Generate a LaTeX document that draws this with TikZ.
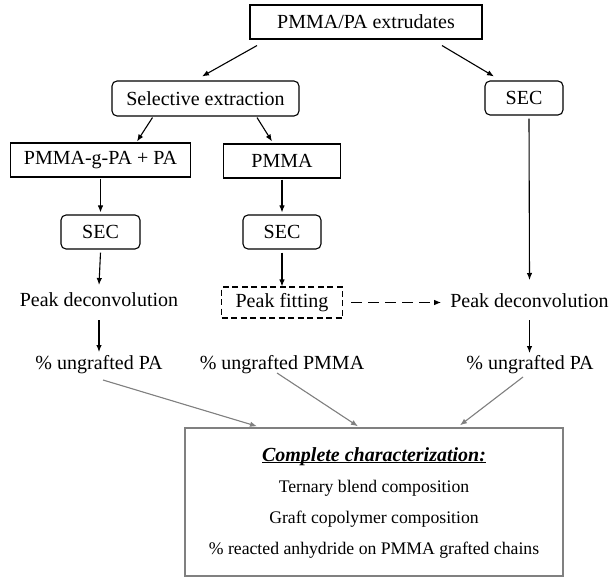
\documentclass[tikz,border=0pt]{standalone}
\usepackage{fontspec}
\setmainfont{Liberation Serif}
\usetikzlibrary{arrows.meta,positioning}
\newcommand{\ulinetext}[1]{\underline{\smash{#1}}}

\begin{document}
\begin{tikzpicture}[x=1pt, y=-1pt, every node/.style={font=\fontsize{20}{24}\selectfont, inner sep=0pt}, box/.style={draw, line width=1.1pt, minimum height=34pt, align=center}, rbox/.style={box, rounded corners=5pt}, fitbox/.style={draw, line width=1.1pt, dash pattern=on 6pt off 3.5pt, minimum height=31pt, minimum width=121pt}, resbox/.style={draw=black!50, line width=1.4pt, minimum width=378pt, minimum height=148pt, align=center, font=\fontsize{17.7}{31}\selectfont}, arr/.style={-{Latex[length=7pt,width=5.5pt]}, line width=1.1pt}, garr/.style={arr, draw=black!50, fill=black!50}]
\useasboundingbox (0,0) rectangle (610,577);
\node[box, minimum width=232pt] (top) at (366,22) {PMMA/PA extrudates};
\node[rbox, minimum width=187pt, minimum height=35pt] (sel) at (205.5,98.5) {Selective extraction};
\node[rbox, minimum width=78pt] (secR) at (524,98) {SEC};
\node[box, minimum width=180pt] (pg) at (100.5,160) {PMMA-g-PA + PA};
\node[box, minimum width=117pt] (pmma) at (282,161) {PMMA};
\node[rbox, minimum width=79pt] (secA) at (100.5,232) {SEC};
\node[rbox, minimum width=78pt] (secB) at (282,232) {SEC};
\node (pdA) at (99,300) {Peak deconvolution};
\node[fitbox] (pf) at (282,302.5) {Peak fitting};
\node (pdB) at (529.5,301) {Peak deconvolution};
\node (unA) at (99,365) {\% ungrafted PA};
\node (unB) at (282,365) {\% ungrafted PMMA};
\node (unC) at (530,365) {\% ungrafted PA};
\node[resbox] (res) at (374,502) {{\fontsize{20}{24}\selectfont\rule{0pt}{15pt}\ulinetext{\textbf{\textit{Complete characterization:}}}}\\ Ternary blend composition\\ Graft copolymer composition\\ \% reacted anhydride on PMMA grafted chains};
\draw[arr] ([xshift=-109pt,yshift=-6pt]top.south) -- ([xshift=-3.5pt,yshift=4pt]sel.north);
\draw[arr] ([xshift=76pt,yshift=-6pt]top.south) -- ([xshift=-30pt,yshift=4pt]secR.north);
\draw[arr] ([xshift=-53pt,yshift=-1pt]sel.south) -- ([xshift=36.5pt,yshift=1pt]pg.north);
\draw[arr] ([xshift=51.5pt,yshift=-1pt]sel.south) -- ([xshift=-10pt,yshift=2pt]pmma.north);
\draw[arr] ([yshift=-1pt]pg.south) -- ([yshift=2pt]secA.north);
\draw[arr] ([yshift=-1pt]pmma.south) -- ([yshift=2pt]secB.north);
\draw[arr] ([xshift=5pt,yshift=-3pt]secR.south) -- ([yshift=21pt]pdB.center);
\draw[arr] ([yshift=-3pt]secA.south) -- ([yshift=15pt]pdA.center);
\draw[arr] ([yshift=-3pt]secB.south) -- (pf.north);
\draw[arr, dash pattern=on 11pt off 6pt] ([xshift=8pt]pf.east) -- ([xshift=-9pt]pdB.west |- pf.east);
\draw[arr] ([yshift=-20pt]pdA.center) -- ([yshift=13pt]unA.center);
\draw[arr] ([yshift=-19pt]pdB.center) -- ([xshift=-0.5pt,yshift=12pt]unC.center);
\draw[garr] ([xshift=4pt,yshift=-15pt]unA.center) -- ([xshift=-117pt,yshift=1pt]res.north);
\draw[garr] ([xshift=-5pt,yshift=-8pt]unB.center) -- ([xshift=-16pt,yshift=1pt]res.north);
\draw[garr] ([xshift=-7pt,yshift=-12pt]unC.center) -- ([xshift=86pt,yshift=2pt]res.north);
\end{tikzpicture}
\end{document}
